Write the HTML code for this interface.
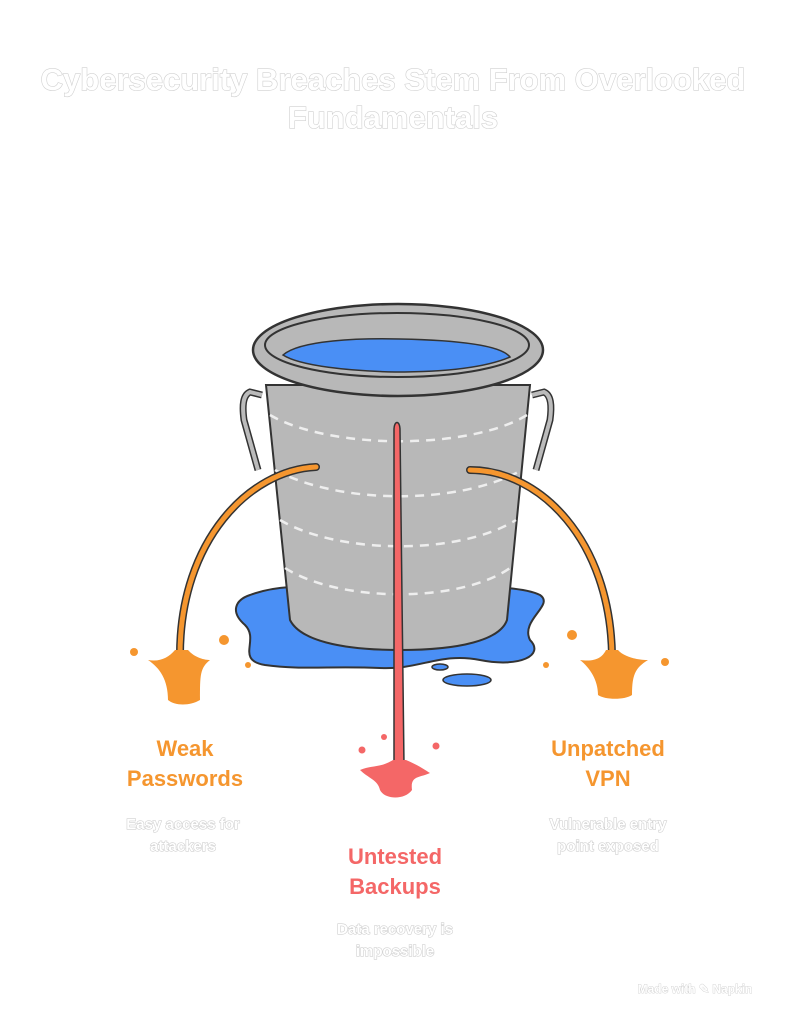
<!DOCTYPE html>
<html><head><meta charset="utf-8"><style>
body{margin:0;background:#fff;width:795px;height:1024px;overflow:hidden;font-family:"Liberation Sans",sans-serif}
.o{fill:#fff;stroke:#d0d0d0;stroke-width:1.2;paint-order:stroke}
</style></head><body>
<svg width="795" height="1024" viewBox="0 0 795 1024" xmlns="http://www.w3.org/2000/svg">
<g font-family="Liberation Sans, sans-serif" font-weight="bold" text-anchor="middle">
<text class="o" x="393" y="90" font-size="31">Cybersecurity Breaches Stem From Overlooked</text>
<text class="o" x="393" y="128" font-size="31">Fundamentals</text>
</g>
<!-- puddle -->
<path d="M250 595 C290 580 330 590 400 588 C470 586 520 585 540 595 C555 605 520 620 530 640 C545 655 520 668 480 660 C440 652 420 670 380 668 C330 666 300 670 265 665 C235 660 260 640 245 625 C230 612 235 600 250 595Z" fill="#4a8ff5" stroke="#333" stroke-width="2"/>
<ellipse cx="440" cy="667" rx="8" ry="3" fill="#4a8ff5" stroke="#333" stroke-width="1.5"/>
<ellipse cx="467" cy="680" rx="24" ry="6" fill="#4a8ff5" stroke="#333" stroke-width="1.5"/>
<!-- handles -->
<path d="M262 395 L250 392 C243 395 242 405 244 420 L258 470" fill="none" stroke="#333" stroke-width="7"/>
<path d="M262 395 L250 392 C243 395 242 405 244 420 L258 470" fill="none" stroke="#bbb" stroke-width="4"/>
<path d="M532 395 L544 392 C551 395 552 405 550 420 L536 470" fill="none" stroke="#333" stroke-width="7"/>
<path d="M532 395 L544 392 C551 395 552 405 550 420 L536 470" fill="none" stroke="#bbb" stroke-width="4"/>
<!-- body -->
<path d="M266 385 L290 620 C300 640 340 650 400 650 C460 650 500 640 507 620 L530 385Z" fill="#b8b8b8" stroke="#333" stroke-width="2"/>
<g fill="none" stroke="#eee" stroke-width="2.5" stroke-dasharray="9 7">
<path d="M270 415 C330 450 470 450 527 415"/>
<path d="M275 470 C340 505 460 505 522 470"/>
<path d="M280 520 C340 555 460 555 516 520"/>
<path d="M285 568 C340 603 460 603 510 568"/>
</g>
<!-- rim -->
<ellipse cx="398" cy="350" rx="145" ry="46" fill="#b8b8b8" stroke="#333" stroke-width="2.5"/>
<ellipse cx="397" cy="345" rx="132" ry="32" fill="#b8b8b8" stroke="#333" stroke-width="2"/>
<path d="M283 355 C300 340 360 338 400 339 C450 340 500 344 510 357 C480 370 430 372 395 372 C350 371 300 366 283 355Z" fill="#4a8ff5" stroke="#333" stroke-width="1.5"/>
<!-- red stream -->
<path d="M394 430 C394 420 400 420 400 430 L404 765 L394 765Z" fill="#f46767" stroke="#333" stroke-width="1.5"/>
<path d="M360 770 C372 765 380 768 393 760 L406 760 C418 765 425 770 430 773 C420 778 410 775 412 790 C405 800 385 800 380 790 C378 780 368 778 360 770Z" fill="#f46767"/>
<circle cx="384" cy="737" r="3" fill="#f46767"/><circle cx="362" cy="750" r="3.5" fill="#f46767"/><circle cx="436" cy="746" r="3.5" fill="#f46767"/>
<!-- orange streams -->
<path d="M316 467 C250 470 180 540 180 655" fill="none" stroke="#333" stroke-width="8" stroke-linecap="round"/>
<path d="M316 467 C250 470 180 540 180 655" fill="none" stroke="#f5962f" stroke-width="5" stroke-linecap="round"/>
<path d="M470 470 C540 470 610 540 612 655" fill="none" stroke="#333" stroke-width="8" stroke-linecap="round"/>
<path d="M470 470 C540 470 610 540 612 655" fill="none" stroke="#f5962f" stroke-width="5" stroke-linecap="round"/>
<path d="M148 660 C160 662 168 658 175 650 L188 650 C195 658 205 660 210 660 C200 668 200 675 200 700 C190 706 175 706 168 700 C168 680 160 668 148 660Z" fill="#f5962f"/>
<path d="M580 660 C595 662 602 658 606 650 L618 650 C625 658 640 660 648 660 C635 668 632 675 632 695 C625 700 605 700 598 695 C598 680 590 668 580 660Z" fill="#f5962f"/>
<circle cx="134" cy="652" r="4" fill="#f5962f"/><circle cx="224" cy="640" r="5" fill="#f5962f"/><circle cx="248" cy="665" r="3" fill="#f5962f"/>
<circle cx="572" cy="635" r="5" fill="#f5962f"/><circle cx="546" cy="665" r="3" fill="#f5962f"/><circle cx="665" cy="662" r="4" fill="#f5962f"/>
<g font-family="Liberation Sans, sans-serif" font-weight="bold" text-anchor="middle" font-size="22">
<text x="185" y="756" fill="#f5962f">Weak</text><text x="185" y="786" fill="#f5962f">Passwords</text>
<text x="608" y="756" fill="#f5962f">Unpatched</text><text x="608" y="786" fill="#f5962f">VPN</text>
<text x="395" y="864" fill="#f46767">Untested</text><text x="395" y="894" fill="#f46767">Backups</text>
</g>
<g font-family="Liberation Sans, sans-serif" font-weight="bold" text-anchor="middle" font-size="15">
<text class="o" x="183" y="829">Easy access for</text><text class="o" x="183" y="851">attackers</text>
<text class="o" x="608" y="829">Vulnerable entry</text><text class="o" x="608" y="851">point exposed</text>
<text class="o" x="395" y="934">Data recovery is</text><text class="o" x="395" y="956">impossible</text>
<text x="695" y="993" font-size="12" fill="#fff" stroke="#ccc" stroke-width="0.8" paint-order="stroke">Made with ✎ Napkin</text>
</g>
</svg>
</body></html>
